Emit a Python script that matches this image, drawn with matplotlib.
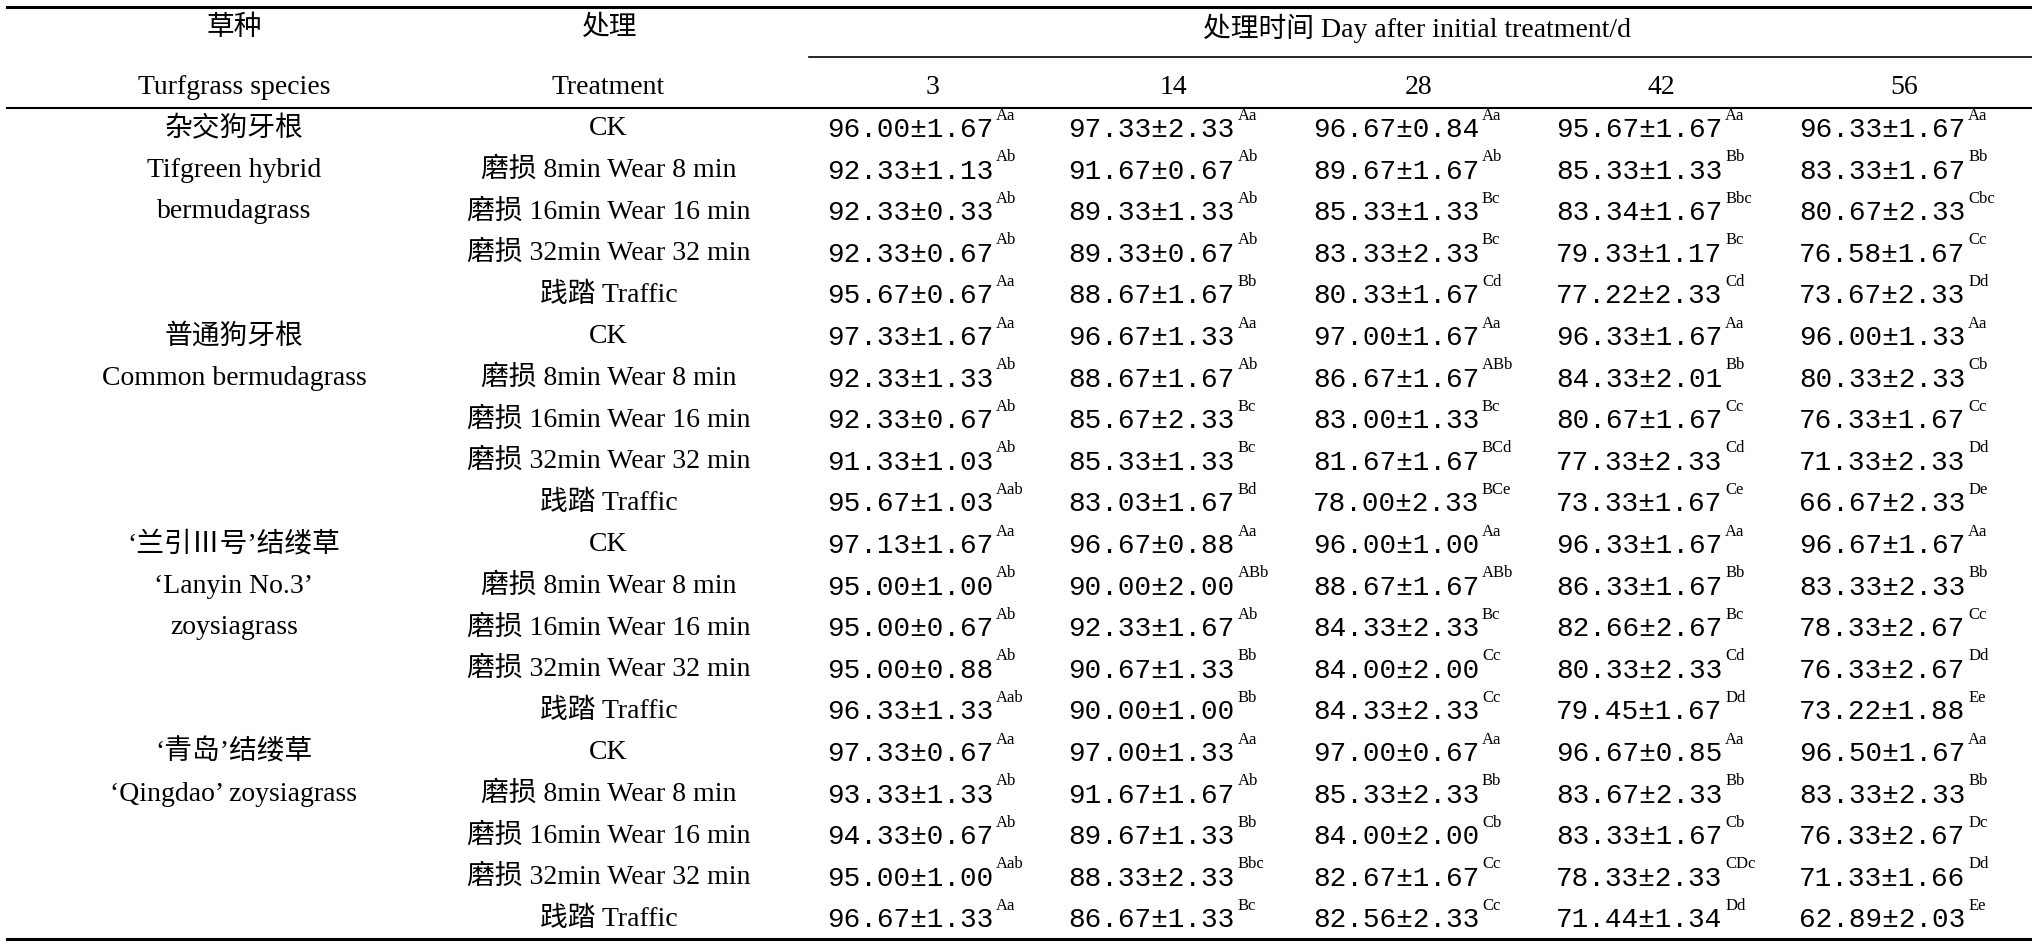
import matplotlib
matplotlib.use("Agg")
import matplotlib.pyplot as plt
from matplotlib.lines import Line2D

W, H = 2032, 944
S = 1.3  # measured on a 1563-wide view

days = ["3", "14", "28", "42", "56"]
treatments = ["CK", "磨损 8min Wear 8 min", "磨损 16min Wear 16 min",
              "磨损 32min Wear 32 min", "践踏 Traffic"]
species = [["杂交狗牙根", "Tifgreen hybrid", "bermudagrass"],
           ["普通狗牙根", "Common bermudagrass"],
           ["‘兰引Ⅲ号’结缕草", "‘Lanyin No.3’", "zoysiagrass"],
           ["‘青岛’结缕草", "‘Qingdao’ zoysiagrass"]]

means = [
    [96.00, 97.33, 96.67, 95.67, 96.33],
    [92.33, 91.67, 89.67, 85.33, 83.33],
    [92.33, 89.33, 85.33, 83.34, 80.67],
    [92.33, 89.33, 83.33, 79.33, 76.58],
    [95.67, 88.67, 80.33, 77.22, 73.67],
    [97.33, 96.67, 97.00, 96.33, 96.00],
    [92.33, 88.67, 86.67, 84.33, 80.33],
    [92.33, 85.67, 83.00, 80.67, 76.33],
    [91.33, 85.33, 81.67, 77.33, 71.33],
    [95.67, 83.03, 78.00, 73.33, 66.67],
    [97.13, 96.67, 96.00, 96.33, 96.67],
    [95.00, 90.00, 88.67, 86.33, 83.33],
    [95.00, 92.33, 84.33, 82.66, 78.33],
    [95.00, 90.67, 84.00, 80.33, 76.33],
    [96.33, 90.00, 84.33, 79.45, 73.22],
    [97.33, 97.00, 97.00, 96.67, 96.50],
    [93.33, 91.67, 85.33, 83.67, 83.33],
    [94.33, 89.67, 84.00, 83.33, 76.33],
    [95.00, 88.33, 82.67, 78.33, 71.33],
    [96.67, 86.67, 82.56, 71.44, 62.89],
]
sds = [
    [1.67, 2.33, 0.84, 1.67, 1.67],
    [1.13, 0.67, 1.67, 1.33, 1.67],
    [0.33, 1.33, 1.33, 1.67, 2.33],
    [0.67, 0.67, 2.33, 1.17, 1.67],
    [0.67, 1.67, 1.67, 2.33, 2.33],
    [1.67, 1.33, 1.67, 1.67, 1.33],
    [1.33, 1.67, 1.67, 2.01, 2.33],
    [0.67, 2.33, 1.33, 1.67, 1.67],
    [1.03, 1.33, 1.67, 2.33, 2.33],
    [1.03, 1.67, 2.33, 1.67, 2.33],
    [1.67, 0.88, 1.00, 1.67, 1.67],
    [1.00, 2.00, 1.67, 1.67, 2.33],
    [0.67, 1.67, 2.33, 2.67, 2.67],
    [0.88, 1.33, 2.00, 2.33, 2.67],
    [1.33, 1.00, 2.33, 1.67, 1.88],
    [0.67, 1.33, 0.67, 0.85, 1.67],
    [1.33, 1.67, 2.33, 2.33, 2.33],
    [0.67, 1.33, 2.00, 1.67, 2.67],
    [1.00, 2.33, 1.67, 2.33, 1.66],
    [1.33, 1.33, 2.33, 1.34, 2.03],
]
letters = [
    ["Aa", "Aa", "Aa", "Aa", "Aa"],
    ["Ab", "Ab", "Ab", "Bb", "Bb"],
    ["Ab", "Ab", "Bc", "Bbc", "Cbc"],
    ["Ab", "Ab", "Bc", "Bc", "Cc"],
    ["Aa", "Bb", "Cd", "Cd", "Dd"],
    ["Aa", "Aa", "Aa", "Aa", "Aa"],
    ["Ab", "Ab", "ABb", "Bb", "Cb"],
    ["Ab", "Bc", "Bc", "Cc", "Cc"],
    ["Ab", "Bc", "BCd", "Cd", "Dd"],
    ["Aab", "Bd", "BCe", "Ce", "De"],
    ["Aa", "Aa", "Aa", "Aa", "Aa"],
    ["Ab", "ABb", "ABb", "Bb", "Bb"],
    ["Ab", "Ab", "Bc", "Bc", "Cc"],
    ["Ab", "Bb", "Cc", "Cd", "Dd"],
    ["Aab", "Bb", "Cc", "Dd", "Ee"],
    ["Aa", "Aa", "Aa", "Aa", "Aa"],
    ["Ab", "Ab", "Bb", "Bb", "Bb"],
    ["Ab", "Bb", "Cb", "Cb", "Dc"],
    ["Aab", "Bbc", "Cc", "CDc", "Dd"],
    ["Aa", "Bc", "Cc", "Dd", "Ee"],
]

fig = plt.figure(figsize=(W / 100, H / 100), dpi=100)
TXT = dict(family=["Liberation Serif", "Noto Sans CJK SC"], fontsize=20)
NUM = dict(family=["Liberation Mono", "Noto Sans CJK SC"], fontsize=20)


def put(x, y, s, ha="center", **kw):
    # x, y in the 1563-wide view, y from top
    fig.text(x * S / W, 1 - y * S / H, s, ha=ha, va="center", **kw)


def hline(x0, x1, y, lw):
    fig.add_artist(Line2D([x0 * S / W, x1 * S / W], [1 - y * S / H] * 2,
                          color="black", lw=lw))


hline(5, 1563, 5, 2.2)
hline(622, 1563, 44, 1.2)
hline(5, 1563, 83, 1.5)
hline(5, 1563, 722, 2.2)

put(180, 22, "草种", **TXT)
put(468, 22, "处理", **TXT)
put(1090, 22, "处理时间 Day after initial treatment/d", **TXT)
put(180, 67, "Turfgrass species", **TXT)
put(468, 67, "Treatment", **TXT)
col_x = [636, 822, 1010, 1197, 1384]
for j, d in enumerate(days):
    put(col_x[j] + 81, 67, d, **TXT)

row_y0, row_h = 99, 32
for g, lines in enumerate(species):
    for k, s in enumerate(lines):
        put(180, row_y0 + (g * 5 + k) * row_h, s, **TXT)

for i in range(len(means)):
    y = row_y0 + i * row_h
    put(468, y, treatments[i % 5], **TXT)
    for j in range(5):
        s = f"{means[i][j]:.2f}±{sds[i][j]:.2f}"
        put(col_x[j], y + 1, s, ha="left", **NUM)
        put(col_x[j] + 130, y - 10, letters[i][j], ha="left",
            family="Liberation Serif", fontsize=12)

fig.savefig("out.png", dpi=100)
